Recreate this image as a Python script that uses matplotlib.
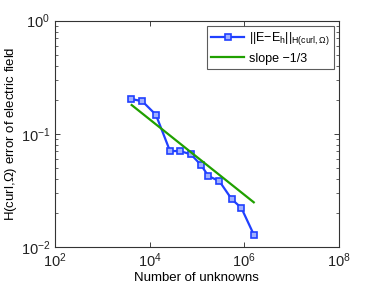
import numpy as np
import matplotlib
matplotlib.use('Agg')
from matplotlib import pyplot as plt
from matplotlib.ticker import LogLocator, NullFormatter, FixedLocator

# data
unknowns = [4050, 7000, 13600, 27000, 44000, 75000, 124000, 174000,
            298000, 543000, 869000, 1610000]
error = [0.203, 0.194, 0.147, 0.0703, 0.0703, 0.0657, 0.0525, 0.0423,
         0.0381, 0.0264, 0.0221, 0.0127]
slope_x = [4180, 1590000]
slope_c = 2.89

plt.rcParams['font.family'] = ['Liberation Sans', 'DejaVu Sans']
plt.rcParams['mathtext.fontset'] = 'custom'
plt.rcParams['mathtext.rm'] = 'Liberation Sans'
plt.rcParams['mathtext.it'] = 'Liberation Sans'

fig = plt.figure(figsize=(3.74, 2.87), dpi=100)
ax = fig.add_axes([0.147, 0.140, 0.759, 0.788])

blue = '#2040ff'
green = '#20a000'
ax.loglog(unknowns, error, '-s', color=blue, lw=1.6, ms=4.5,
          mfc='#a0b0ff', mec=blue, mew=1.2,
          label=r'$||\mathrm{E{-}E_h}||_{\mathrm{H(curl,\Omega)}}$')
slope_y = [slope_c * x ** (-1.0 / 3) for x in slope_x]
ax.loglog(slope_x, slope_y, '-', color=green, lw=1.6, label='slope \u22121/3')

ax.set_xlim(1e2, 1e8)
ax.set_ylim(1e-2, 1e0)
ax.xaxis.set_major_locator(FixedLocator([1e2, 1e4, 1e6, 1e8]))
ax.xaxis.set_minor_locator(FixedLocator([]))
ax.yaxis.set_minor_locator(LogLocator(base=10, subs=np.arange(2, 10)))
ax.yaxis.set_minor_formatter(NullFormatter())
ax.tick_params(which='both', direction='in', top=True, right=True,
               labelsize=10.5, colors='#222222')
ax.tick_params(which='major', length=3.5, width=0.6)
ax.tick_params(which='minor', length=2, width=0.5)
for s in ax.spines.values():
    s.set_linewidth(0.8)
    s.set_color('#333333')

ax.set_xlabel('Number of unknowns', fontsize=9.5, labelpad=1)
ax.set_ylabel(r'H(curl,$\Omega$) error of electric field', fontsize=9.5, labelpad=1)

leg = ax.legend(loc='upper right', fontsize=9, fancybox=False,
                borderaxespad=0.4, handlelength=2.6, labelspacing=0.45,
                borderpad=0.35, handletextpad=0.4)
leg.get_frame().set_edgecolor('#333333')
leg.get_frame().set_linewidth(0.8)

fig.savefig('out.png', dpi=100)
